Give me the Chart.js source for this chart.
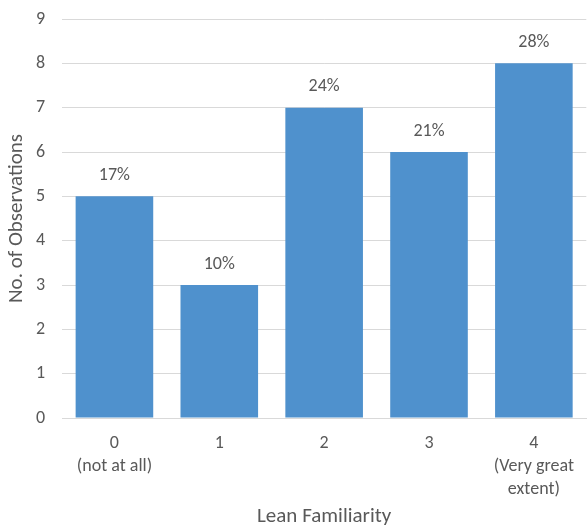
<!DOCTYPE html>
<html>
<head>
<meta charset="utf-8">
<script src="https://cdn.jsdelivr.net/npm/chart.js@4/dist/chart.umd.min.js"></script>
<style>
  html, body { margin: 0; padding: 0; background: #fff; }
  #wrap { width: 588px; height: 527px; }
</style>
</head>
<body>
<div id="wrap"><canvas id="familiarityChart"></canvas></div>
<script>
const categories = [['0', '(not at all)'], '1', '2', '3', ['4', '(Very great', 'extent)']];
const observations = [5, 3, 7, 6, 8];
const shareLabels = ['17%', '10%', '24%', '21%', '28%'];

const FONT = "Carlito, Lato, 'Liberation Sans', sans-serif";
const TEXT = '#595959';

// writes the share of observations above each bar
const barLabels = {
    id: 'barLabels',
    afterDatasetsDraw(chart) {
        const ctx = chart.ctx;
        const meta = chart.getDatasetMeta(0);
        ctx.save();
        ctx.font = '18px ' + FONT;
        ctx.fillStyle = TEXT;
        ctx.textAlign = 'center';
        ctx.textBaseline = 'middle';
        meta.data.forEach((bar, i) => {
            ctx.fillText(shareLabels[i], bar.x, bar.y - 21);
        });
        ctx.restore();
    }
};

const ctx = document.getElementById('familiarityChart').getContext('2d');

new Chart(ctx, {
    type: 'bar',
    data: {
        labels: categories,
        datasets: [{
            data: observations,
            backgroundColor: '#4f91cd',
            categoryPercentage: 0.74,
            barPercentage: 1.0
        }]
    },
    options: {
        responsive: true,
        maintainAspectRatio: false,
        animation: false,
        layout: { padding: { top: 19, right: 0, left: 0, bottom: 0 } },
        plugins: {
            legend: { display: false },
            tooltip: { enabled: false }
        },
        scales: {
            x: {
                afterFit(scale) { scale.height = 109; },
                grid: { display: false, drawTicks: false },
                border: { display: true, color: '#d9d9d9', width: 1 },
                ticks: {
                    color: TEXT,
                    font: { family: FONT, size: 18, lineHeight: 1.28 },
                    padding: 14,
                    maxRotation: 0
                },
                title: {
                    display: true,
                    text: 'Lean Familiarity',
                    color: TEXT,
                    font: { family: FONT, size: 21, lineHeight: 1.0 },
                    padding: { top: 4, bottom: 0 }
                }
            },
            y: {
                afterFit(scale) {
                    scale.width = 62;
                    scale.paddingTop = 0;
                },
                min: 0,
                max: 9,
                grid: { color: '#d9d9d9', drawTicks: false },
                border: { display: false },
                ticks: {
                    stepSize: 1,
                    color: TEXT,
                    font: { family: FONT, size: 18 },
                    padding: 17
                },
                title: {
                    display: true,
                    text: 'No. of Observations',
                    color: TEXT,
                    font: { family: FONT, size: 21, lineHeight: 1.0 },
                    padding: { top: 6, bottom: 0 }
                }
            }
        }
    },
    plugins: [barLabels]
});
</script>
</body>
</html>
